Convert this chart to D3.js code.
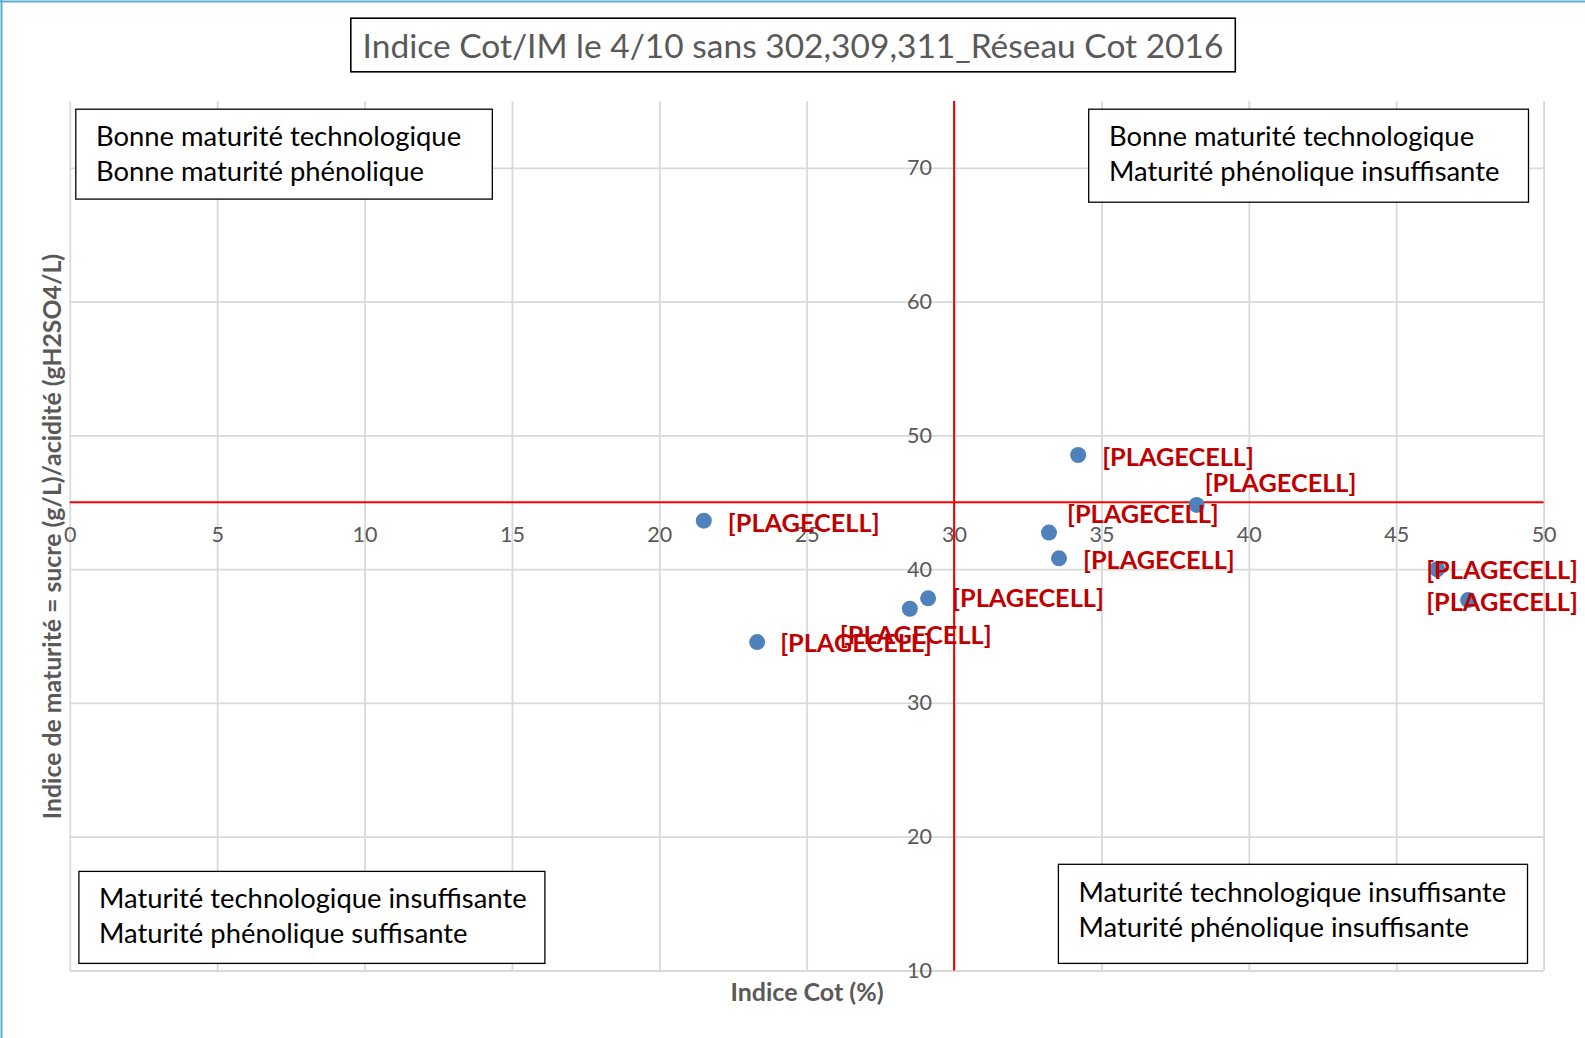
<!DOCTYPE html>
<html>
<head>
<meta charset="utf-8">
<script src="https://cdn.jsdelivr.net/npm/d3@7"></script>
<style>
  html, body { margin: 0; padding: 0; background: #ffffff; }
  svg { display: block; }
</style>
</head>
<body>
<svg id="chart" width="1585" height="1038"></svg>
<script>
// ---------- data ----------
const chartTitle = "Indice Cot/IM le 4/10 sans 302,309,311_Réseau Cot 2016";
const xAxisTitle = "Indice Cot (%)";
const yAxisTitle = "Indice de maturité = sucre (g/L)/acidité (gH2SO4/L)";

const indiceCot = [21.51, 23.32, 28.50, 29.12, 34.21, 38.23, 33.22, 33.56, 46.39, 47.44];
const indiceMaturite = [43.62, 34.55, 37.04, 37.82, 48.53, 44.80, 42.73, 40.81, 39.99, 37.69];
const pointLabels = ["[PLAGECELL]", "[PLAGECELL]", "[PLAGECELL]", "[PLAGECELL]", "[PLAGECELL]",
                     "[PLAGECELL]", "[PLAGECELL]", "[PLAGECELL]", "[PLAGECELL]", "[PLAGECELL]"];

const xTicks = [0, 5, 10, 15, 20, 25, 30, 35, 40, 45, 50];
const yTicks = [10, 20, 30, 40, 50, 60, 70];
const xDomain = [0, 50];
const yDomain = [10, 75];
const thresholdCot = 30;
const thresholdIM = 45;

const quadrantTopLeft = ["Bonne maturité technologique", "Bonne maturité phénolique"];
const quadrantTopRight = ["Bonne maturité technologique", "Maturité phénolique insuffisante"];
const quadrantBottomLeft = ["Maturité technologique insuffisante", "Maturité phénolique suffisante"];
const quadrantBottomRight = ["Maturité technologique insuffisante", "Maturité phénolique insuffisante"];

// ---------- layout (label placement offsets in px, per point) ----------
const labelOffsets = [
  {dx: 24, dy: 2}, {dx: 23, dy: 1}, {dx: -70, dy: 26}, {dx: 24, dy: 0}, {dx: 24, dy: 2},
  {dx: 8, dy: -22}, {dx: 18, dy: -18}, {dx: 24, dy: 2}, {dx: -11, dy: 1}, {dx: -42, dy: 2}
];

const svg = d3.select("#chart");
const W = 1585, H = 1038;
const plot = {left: 69.75, right: 1543.6, top: 100.9, bottom: 970.5};

const x = d3.scaleLinear().domain(xDomain).range([plot.left, plot.right]);
const y = d3.scaleLinear().domain(yDomain).range([plot.bottom, plot.top]);

const FONT = "Lato, 'Open Sans', 'Liberation Sans', sans-serif";
const GRAY = "#595959";

// outer chart border (left and top visible)
svg.append("line").attr("x1", 1.5).attr("x2", 1.5).attr("y1", 0).attr("y2", H)
  .attr("stroke", "#5aaed0").attr("stroke-width", 2);
svg.append("line").attr("x1", 0).attr("x2", W).attr("y1", 1.5).attr("y2", 1.5)
  .attr("stroke", "#5aaed0").attr("stroke-width", 2);

// ---------- gridlines ----------
const gridX = svg.append("g").attr("transform", `translate(0,${plot.bottom})`)
  .call(d3.axisBottom(x).tickValues(xTicks).tickSize(-(plot.bottom - plot.top)).tickFormat(""));
gridX.select(".domain").remove();
gridX.selectAll(".tick line").attr("stroke", "#d9d9d9").attr("stroke-width", 1.8);

const gridY = svg.append("g").attr("transform", `translate(${plot.left},0)`)
  .call(d3.axisLeft(y).tickValues(yTicks).tickSize(-(plot.right - plot.left)).tickFormat(""));
gridY.select(".domain").remove();
gridY.selectAll(".tick line").attr("stroke", "#d9d9d9").attr("stroke-width", 1.8);

// ---------- axes (crossing at thresholds) ----------
const xAxis = svg.append("g").attr("transform", `translate(0,${y(thresholdIM)})`)
  .call(d3.axisBottom(x).tickValues(xTicks).tickSize(0).tickPadding(24).tickFormat(d3.format("d")));
xAxis.select(".domain").remove();
xAxis.selectAll("text").attr("fill", GRAY).style("font-family", FONT).style("font-size", "21.5px");

const yAxis = svg.append("g").attr("transform", `translate(${x(thresholdCot)},0)`)
  .call(d3.axisLeft(y).tickValues(yTicks).tickSize(0).tickPadding(22).tickFormat(d3.format("d")));
yAxis.select(".domain").remove();
yAxis.selectAll("text").attr("fill", GRAY).style("font-family", FONT).style("font-size", "21.5px");

// ---------- threshold lines ----------
svg.append("line")
  .attr("x1", x(thresholdCot)).attr("x2", x(thresholdCot))
  .attr("y1", y(yDomain[1])).attr("y2", y(yDomain[0]))
  .attr("stroke", "#ff0000").attr("stroke-width", 2);
svg.append("line")
  .attr("x1", x(xDomain[0])).attr("x2", x(xDomain[1]))
  .attr("y1", y(thresholdIM)).attr("y2", y(thresholdIM))
  .attr("stroke", "#ff0000").attr("stroke-width", 2);

// ---------- points ----------
const pts = indiceCot.map((v, i) => ({x: v, y: indiceMaturite[i], label: pointLabels[i], off: labelOffsets[i]}));

svg.append("g").selectAll("circle").data(pts).join("circle")
  .attr("cx", d => x(d.x)).attr("cy", d => y(d.y)).attr("r", 8)
  .attr("fill", "#4f81bd");

svg.append("g").selectAll("text").data(pts).join("text")
  .attr("x", d => x(d.x) + d.off.dx).attr("y", d => y(d.y) + d.off.dy)
  .attr("dy", "0.35em")
  .attr("fill", "#c00000")
  .style("font-family", FONT).style("font-weight", "bold").style("font-size", "25.3px")
  .text(d => d.label);

// ---------- quadrant boxes ----------
function quadBox(x0, y0, x1, y1, tx, lines, ly) {
  const g = svg.append("g");
  g.append("rect").attr("x", x0).attr("y", y0).attr("width", x1 - x0).attr("height", y1 - y0)
    .attr("fill", "#ffffff").attr("stroke", "#000000").attr("stroke-width", 1.3);
  g.selectAll("text").data(lines).join("text")
    .attr("x", tx).attr("y", (d, i) => ly + i * 35.2).attr("dy", "0.35em")
    .attr("fill", "#000000").style("font-family", FONT).style("font-size", "27.4px")
    .text(d => d);
}
quadBox(75.8, 109.2, 492.3, 199.1, 96, quadrantTopLeft, 136.5);
quadBox(1088.7, 109.2, 1528.5, 202.2, 1109, quadrantTopRight, 136.5);
quadBox(78.9, 871.4, 544.9, 963.4, 99, quadrantBottomLeft, 898.7);
quadBox(1058.4, 864.3, 1527.5, 963.4, 1078.6, quadrantBottomRight, 892.6);

// ---------- title ----------
svg.append("rect").attr("x", 350.8).attr("y", 18.2).attr("width", 884.5).attr("height", 53.6)
  .attr("fill", "#ffffff").attr("stroke", "#000000").attr("stroke-width", 1.6);
svg.append("text").attr("x", 793).attr("y", 46).attr("dy", "0.35em")
  .attr("text-anchor", "middle").attr("fill", GRAY)
  .style("font-family", FONT).style("font-size", "33.5px")
  .text(chartTitle);

// ---------- axis titles ----------
svg.append("text").attr("x", 807).attr("y", 992).attr("dy", "0.35em")
  .attr("text-anchor", "middle").attr("fill", GRAY)
  .style("font-family", FONT).style("font-weight", "bold").style("font-size", "25px")
  .text(xAxisTitle);
svg.append("text")
  .attr("transform", `translate(52,536.5) rotate(-90)`)
  .attr("dy", "0.35em")
  .attr("text-anchor", "middle").attr("fill", GRAY)
  .style("font-family", FONT).style("font-weight", "bold").style("font-size", "24.8px")
  .text(yAxisTitle);
</script>
</body>
</html>
